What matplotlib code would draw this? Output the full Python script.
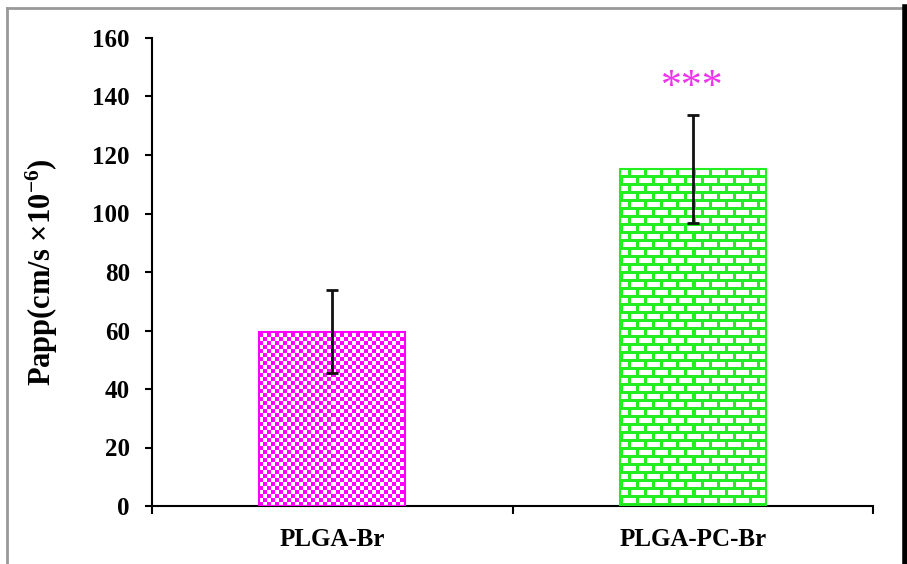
import numpy as np
import matplotlib.pyplot as plt
from matplotlib.colors import to_rgb
from matplotlib.lines import Line2D

categories = ['PLGA-Br', 'PLGA-PC-Br']
papp = [59.5, 115.2]
papp_sd = [14.2, 18.5]
signif = ['', '***']
bar_colors = ['#ff00ff', '#22ee22']
y_ticks = [0, 20, 40, 60, 80, 100, 120, 140, 160]

plt.rcParams['font.family'] = ['Liberation Serif', 'DejaVu Serif']
plt.rcParams['font.weight'] = 'bold'
plt.rcParams['axes.labelweight'] = 'bold'
plt.rcParams['mathtext.fontset'] = 'custom'
plt.rcParams['mathtext.rm'] = 'Liberation Serif:bold'
plt.rcParams['mathtext.default'] = 'rm'


def checker(h, w, col, sq=4):
    yy, xx = np.mgrid[0:h, 0:w]
    on = ((yy // sq) + (xx // sq)) % 2 == 0
    img = np.ones((h, w, 3))
    img[on] = to_rgb(col)
    return img


def bricks(h, w, col, rh=8, bw=16, t=3):
    yy, xx = np.mgrid[0:h, 0:w]
    shift = ((yy // rh) % 2) * (bw // 2)
    on = (yy % rh < t) | ((xx + shift) % bw < t)
    img = np.ones((h, w, 3))
    img[on] = to_rgb(col)
    return img


fig = plt.figure(figsize=(9.07, 5.64), dpi=100)
ax = fig.add_axes([152 / 907, 58 / 564, 721 / 907, 468 / 564])

x = np.arange(len(categories))
bars = ax.bar(x, papp, width=0.405, color='white', edgecolor=bar_colors,
              linewidth=1.5, zorder=2)
ax.errorbar(x, papp, yerr=papp_sd, fmt='none', ecolor='#111111',
            elinewidth=2, capsize=4.5, capthick=2, zorder=4)
for xi, s in zip(x, signif):
    if s:
        ax.text(xi, 136.5, s, ha='center', va='bottom', color='#ee33ee',
                fontsize=30, fontweight='normal', zorder=5)

ax.set_xlim(-0.5, 1.5)
ax.set_ylim(0, 160)
ax.set_yticks(y_ticks)
ax.set_xticks(x)
ax.set_xticklabels(categories)
ax.set_xticks([-0.5, 0.5, 1.5], minor=True)
ax.tick_params(axis='x', which='major', length=0, labelsize=18, pad=16)
ax.tick_params(axis='x', which='minor', length=6, width=1.5, direction='out')
ax.tick_params(axis='y', length=5, width=1.5, labelsize=18, pad=11)
for side in ['top', 'right']:
    ax.spines[side].set_visible(False)
for side in ['left', 'bottom']:
    ax.spines[side].set_linewidth(1.5)
ax.set_ylabel('Papp(cm/s \u00d710$^{-6}$)', fontsize=22, fontweight='bold')
ax.yaxis.set_label_coords(-0.128, 0.5)

# fill bars with pattern images clipped to the bars
fig.canvas.draw()
patterns = [checker, bricks]
for b, col, pat in zip(bars, bar_colors, patterns):
    bb = b.get_window_extent()
    w, h = int(round(bb.width)), int(round(bb.height))
    img = pat(h, w, col)
    x0 = b.get_x()
    im = ax.imshow(img, extent=(x0, x0 + b.get_width(), 0, b.get_height()),
                   origin='lower', interpolation='nearest', aspect='auto',
                   zorder=2.5)
    im.set_clip_path(b)
    b.set_zorder(3)
    b.set_facecolor('none')
ax.set_xlim(-0.5, 1.5)
ax.set_ylim(0, 160)

# chart area border
fig.add_artist(Line2D([7 / 907, 7 / 907], [0, 1 - 8 / 564], color='#999999',
                      lw=2, transform=fig.transFigure))
fig.add_artist(Line2D([7 / 907, 901 / 907], [1 - 8 / 564, 1 - 8 / 564],
                      color='#999999', lw=2, transform=fig.transFigure))
fig.add_artist(Line2D([904.5 / 907, 904.5 / 907], [0, 1 - 7 / 564],
                      color='black', lw=4, transform=fig.transFigure))

fig.savefig('out.png', dpi=100)
